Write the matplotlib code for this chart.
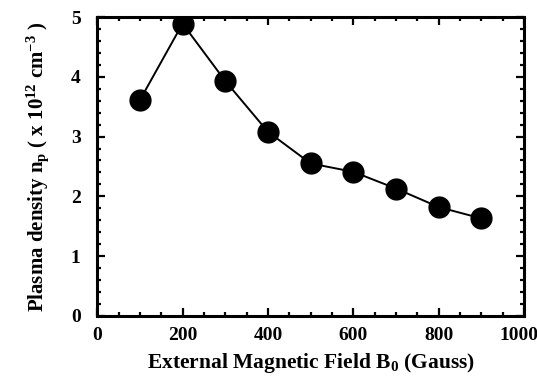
import matplotlib
matplotlib.use("Agg")
import matplotlib.pyplot as plt
import matplotlib.transforms as mtransforms
from matplotlib.ticker import MultipleLocator

# Plasma density vs external magnetic field
field_gauss = [100, 200, 300, 400, 500, 600, 700, 800, 900]
density = [3.61, 4.89, 3.93, 3.08, 2.55, 2.41, 2.13, 1.82, 1.63]
x_ticks = [0, 200, 400, 600, 800, 1000]

plt.rcParams['font.family'] = 'Liberation Serif'
plt.rcParams['font.weight'] = 'bold'
plt.rcParams['mathtext.fontset'] = 'custom'
plt.rcParams['mathtext.rm'] = 'Liberation Serif:bold'
plt.rcParams['mathtext.it'] = 'Liberation Serif:bold'
plt.rcParams['mathtext.bf'] = 'Liberation Serif:bold'

fig = plt.figure(figsize=(5.37, 3.88), dpi=100)
ax = fig.add_axes([0.181, 0.186, 0.795, 0.770])

ax.plot(field_gauss, density, color='black', linewidth=1.4,
        marker='o', markersize=15, markerfacecolor='black', markeredgecolor='black')

ax.set_xlim(0, 1000)
ax.set_ylim(0, 5)
ax.set_xticks(x_ticks)
ax.xaxis.set_minor_locator(MultipleLocator(50))
ax.yaxis.set_major_locator(MultipleLocator(1))
ax.yaxis.set_minor_locator(MultipleLocator(0.2))

ax.tick_params(which='both', direction='in', top=True, right=True, width=1.6)
ax.tick_params(which='major', length=6, labelsize=14, pad=8)
ax.tick_params(axis='y', which='major', pad=12)
ax.tick_params(which='minor', length=3)
for s in ax.spines.values():
    s.set_linewidth(2.2)

ax.set_xlabel('External Magnetic Field B$_0$ (Gauss)', fontsize=15.5, fontweight='bold', labelpad=5)
ax.set_ylabel('Plasma density n$_p$ ( x 10$^{12}$ cm$^{-3}$ )', fontsize=15, fontweight='bold', labelpad=14)

# nudge the "1000" label left so it stays inside the figure
fig.canvas.draw()
for lab in ax.get_xticklabels():
    if lab.get_text() == '1000':
        lab.set_transform(lab.get_transform() +
                          mtransforms.ScaledTranslation(-4 / 72, 0, fig.dpi_scale_trans))

fig.savefig('out.png', dpi=100)
